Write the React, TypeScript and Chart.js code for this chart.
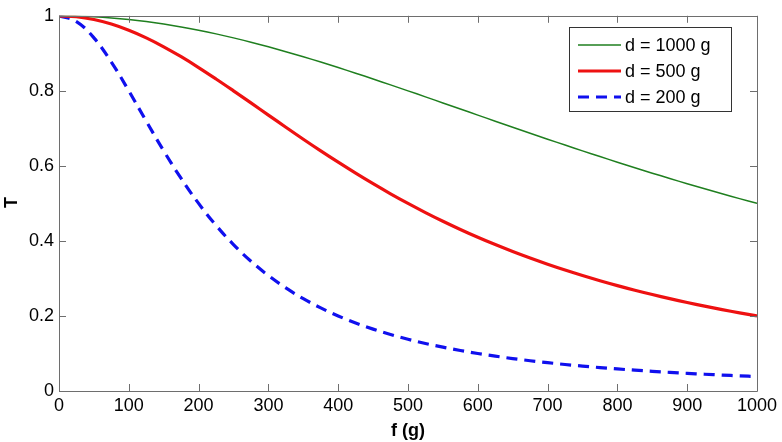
import React, { useEffect, useRef } from "react";
import { Chart, registerables } from "chart.js";

Chart.register(...registerables);

const fValues = [0, 25, 50, 75, 100, 125, 150, 175, 200, 225, 250, 275, 300, 325, 350, 375, 400, 425, 450, 475, 500, 525, 550, 575, 600, 625, 650, 675, 700, 725, 750, 775, 800, 825, 850, 875, 900, 925, 950, 975, 1000];

const t1000 = [1, 0.9994, 0.9975, 0.9944, 0.9901, 0.9846, 0.978, 0.9703, 0.9615, 0.9518, 0.9412, 0.9297, 0.9174, 0.9044, 0.8909, 0.8767, 0.8621, 0.847, 0.8316, 0.8159, 0.8, 0.784, 0.7678, 0.7515, 0.7353, 0.7191, 0.703, 0.687, 0.6711, 0.6555, 0.64, 0.6248, 0.6098, 0.595, 0.5806, 0.5664, 0.5525, 0.5389, 0.5256, 0.5127, 0.5];

const t500 = [1, 0.9975, 0.9901, 0.978, 0.9615, 0.9412, 0.9174, 0.8909, 0.8621, 0.8316, 0.8, 0.7678, 0.7353, 0.703, 0.6711, 0.64, 0.6098, 0.5806, 0.5525, 0.5256, 0.5, 0.4756, 0.4525, 0.4306, 0.4098, 0.3902, 0.3717, 0.3543, 0.3378, 0.3223, 0.3077, 0.2939, 0.2809, 0.2686, 0.2571, 0.2462, 0.2358, 0.2261, 0.2169, 0.2082, 0.2];

const t200 = [1, 0.9846, 0.9412, 0.8767, 0.8, 0.7191, 0.64, 0.5664, 0.5, 0.4414, 0.3902, 0.3459, 0.3077, 0.2747, 0.2462, 0.2215, 0.2, 0.1813, 0.1649, 0.1506, 0.1379, 0.1267, 0.1168, 0.1079, 0.1, 0.0929, 0.0865, 0.0807, 0.0755, 0.0707, 0.0664, 0.0625, 0.0588, 0.0555, 0.0525, 0.0497, 0.0471, 0.0447, 0.0425, 0.0404, 0.0385];

const seriesLabels = ["d = 1000 g", "d = 500 g", "d = 200 g"];
const xTitle = "f (g)";
const yTitle = "T";

const FONT = "'Liberation Sans', Arial, Helvetica, sans-serif";
const AXIS_COLOR = "#6e6e6e";

const framePlugin = {
  id: "frame",
  afterDatasetsDraw(chart: any) {
    const { ctx, chartArea } = chart;
    const { left, right, top, bottom } = chartArea;
    const xs = chart.scales.x;
    const ys = chart.scales.y;
    const tl = 7;
    ctx.save();
    ctx.strokeStyle = AXIS_COLOR;
    ctx.lineWidth = 1;
    ctx.beginPath();
    ctx.rect(Math.round(left) + 0.5, Math.round(top) + 0.5, Math.round(right - left), Math.round(bottom - top));
    ctx.stroke();
    ctx.beginPath();
    xs.ticks.forEach((t: any) => {
      const px = Math.round(xs.getPixelForValue(t.value)) + 0.5;
      ctx.moveTo(px, bottom);
      ctx.lineTo(px, bottom - tl);
      ctx.moveTo(px, top);
      ctx.lineTo(px, top + tl);
    });
    ys.ticks.forEach((t: any) => {
      const py = Math.round(ys.getPixelForValue(t.value)) + 0.5;
      ctx.moveTo(left, py);
      ctx.lineTo(left + tl, py);
      ctx.moveTo(right, py);
      ctx.lineTo(right - tl, py);
    });
    ctx.stroke();
    ctx.restore();
  },
  afterDraw(chart: any) {
    const { ctx, chartArea } = chart;
    ctx.save();
    // axis titles
    ctx.fillStyle = "#000";
    ctx.font = `bold 18px ${FONT}`;
    ctx.textAlign = "center";
    ctx.textBaseline = "middle";
    ctx.fillText(xTitle, (chartArea.left + chartArea.right) / 2, 431);
    ctx.save();
    ctx.translate(12, (chartArea.top + chartArea.bottom) / 2 - 1);
    ctx.rotate(-Math.PI / 2);
    ctx.fillText(yTitle, 0, 0);
    ctx.restore();
    // legend
    const bx = 569.5, by = 27.5, bw = 162, bh = 84;
    ctx.fillStyle = "#ffffff";
    ctx.fillRect(bx, by, bw, bh);
    ctx.strokeStyle = "#333333";
    ctx.lineWidth = 1;
    ctx.strokeRect(bx, by, bw, bh);
    const rows = [45, 71, 97];
    chart.data.datasets.forEach((ds: any, i: number) => {
      const y = rows[i];
      ctx.beginPath();
      ctx.strokeStyle = ds.borderColor;
      ctx.lineWidth = ds.borderWidth;
      ctx.setLineDash(ds.borderDash || []);
      ctx.moveTo(578, y);
      ctx.lineTo(621, y);
      ctx.stroke();
      ctx.setLineDash([]);
      ctx.fillStyle = "#000";
      ctx.font = `18px ${FONT}`;
      ctx.textBaseline = "middle";
      ctx.textAlign = "left";
      ctx.fillText(ds.label, 625, y + 1);
    });
    ctx.restore();
  },
};

export default function App() {
  const ref = useRef<HTMLCanvasElement>(null);
  useEffect(() => {
    if (!ref.current) return;
    const mk = (arr: number[]) => fValues.map((f, i) => ({ x: f, y: arr[i] }));
    const chart = new Chart(ref.current, {
      type: "line",
      data: {
        datasets: [
          { label: seriesLabels[0], data: mk(t1000), borderColor: "#1f7f1f", borderWidth: 1.5, pointRadius: 0, tension: 0.4, fill: false },
          { label: seriesLabels[1], data: mk(t500), borderColor: "#ee1111", borderWidth: 3.2, pointRadius: 0, tension: 0.4, fill: false },
          { label: seriesLabels[2], data: mk(t200), borderColor: "#1010ee", borderWidth: 3.2, borderDash: [11, 7], pointRadius: 0, tension: 0.4, fill: false },
        ],
      },
      options: {
        animation: false,
        responsive: false,
        layout: { padding: { top: 9, right: 25, left: 0, bottom: 0 } },
        plugins: { legend: { display: false }, tooltip: { enabled: false } },
        scales: {
          x: {
            type: "linear",
            min: 0,
            max: 1000,
            grid: { display: false, drawTicks: false, tickLength: 0 },
            border: { display: false },
            ticks: {
              stepSize: 100,
              color: "#000",
              font: { family: FONT, size: 18 },
              padding: 4,
              maxRotation: 0,
              autoSkip: false,
              callback: (v: any) => String(Math.round(Number(v))),
            },
            title: { display: false },
            afterFit: (s: any) => { s.height = 51; },
          },
          y: {
            type: "linear",
            min: 0,
            max: 1,
            grid: { display: false, drawTicks: false, tickLength: 0 },
            border: { display: false },
            ticks: {
              stepSize: 0.2,
              color: "#000",
              font: { family: FONT, size: 18 },
              padding: 5,
              callback: (v: any) => String(Math.round(Number(v) * 10) / 10),
            },
            title: { display: false },
            afterFit: (s: any) => { s.width = 59; },
          },
        },
      },
      plugins: [framePlugin],
    });
    return () => chart.destroy();
  }, []);
  return (
    <div style={{ position: "absolute", left: 0, top: 0, width: 782, height: 442, background: "#fff" }}>
      <canvas ref={ref} width={782} height={442} style={{ display: "block" }} />
    </div>
  );
}
